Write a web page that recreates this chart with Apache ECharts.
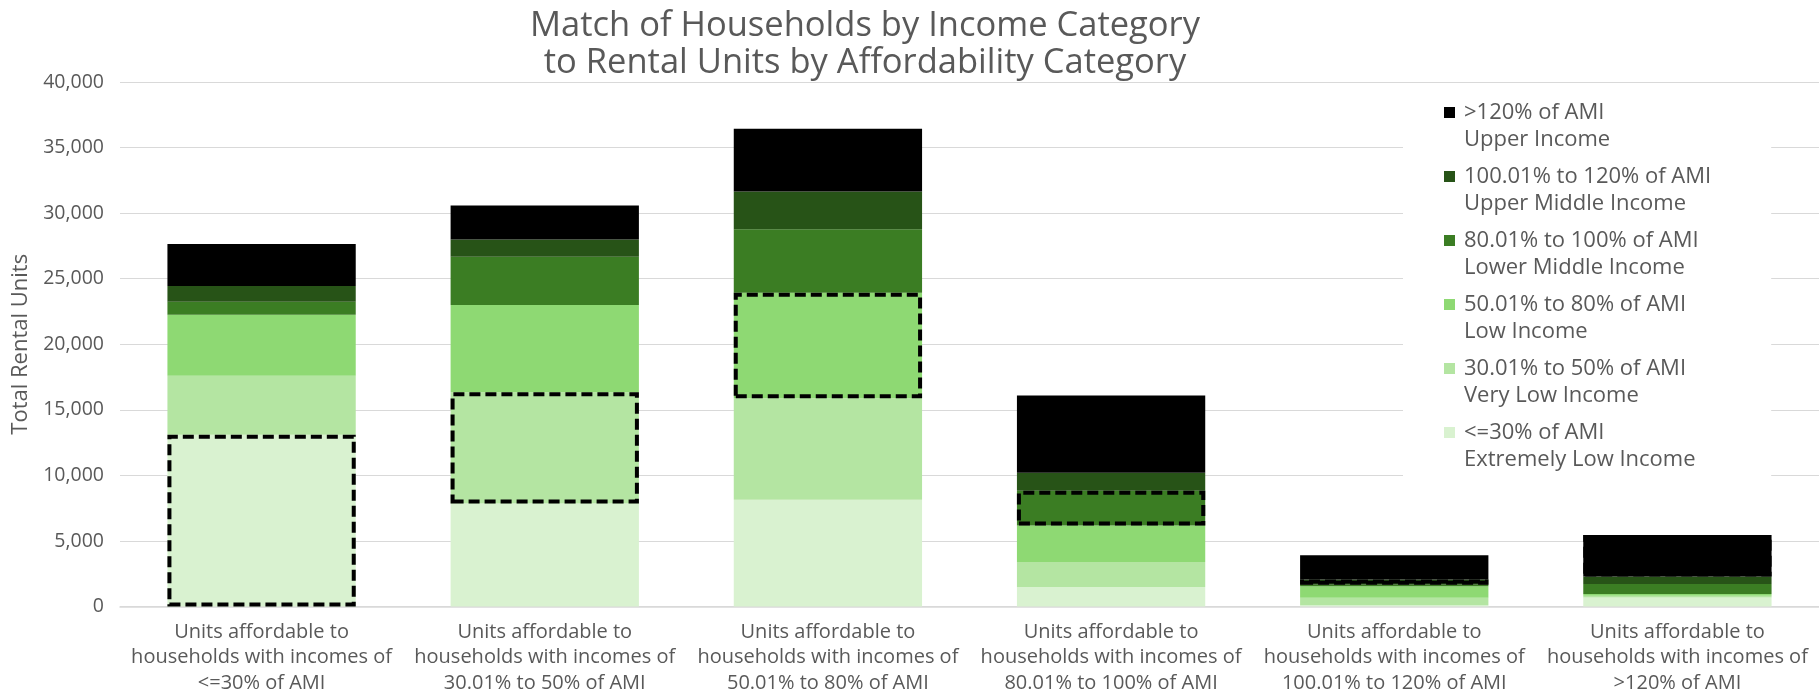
<!DOCTYPE html>
<html>
<head>
<meta charset="utf-8">
<script src="https://cdn.jsdelivr.net/npm/echarts@6/dist/echarts.min.js"></script>
<style>
html,body{margin:0;padding:0;background:#fff;}
#chart{width:1819px;height:696px;}
</style>
</head>
<body>
<div id="chart"></div>
<script>
// ---- data ----
const categories = [
  "Units affordable to\nhouseholds with incomes of\n<=30% of AMI",
  "Units affordable to\nhouseholds with incomes of\n30.01% to 50% of AMI",
  "Units affordable to\nhouseholds with incomes of\n50.01% to 80% of AMI",
  "Units affordable to\nhouseholds with incomes of\n80.01% to 100% of AMI",
  "Units affordable to\nhouseholds with incomes of\n100.01% to 120% of AMI",
  "Units affordable to\nhouseholds with incomes of\n>120% of AMI"
];
const seriesNames = [
  "<=30% of AMI\nExtremely Low Income",
  "30.01% to 50% of AMI\nVery Low Income",
  "50.01% to 80% of AMI\nLow Income",
  "80.01% to 100% of AMI\nLower Middle Income",
  "100.01% to 120% of AMI\nUpper Middle Income",
  ">120% of AMI\nUpper Income"
];
const extremelyLow = [13100, 7850, 8150, 1490, 100, 690];
const veryLow      = [4500, 8480, 7730, 1910, 560, 130];
const low          = [4650, 6670, 8040, 2770, 890, 130];
const lowerMiddle  = [1000, 3680, 4850, 2650, 110, 760];
const upperMiddle  = [1200, 1300, 2880, 1380, 400, 580];
const upper        = [3200, 2600, 4780, 5900, 1840, 3170];
const yTicks = { min: 0, max: 40000, interval: 5000 };

const seriesValues = [extremelyLow, veryLow, low, lowerMiddle, upperMiddle, upper];
const colors = ["#D9F2D0", "#B4E5A2", "#8ED973", "#3B7D23", "#275317", "#000000"];

const FONT = "'Open Sans', 'Noto Sans', sans-serif";
const TXT = "#595959";

const series = [];
seriesValues.forEach((vals, k) => {
  series.push({
    name: seriesNames[k],
    type: 'bar',
    stack: 'units',
    barWidth: '66.5%',
    barGap: '-100%',
    itemStyle: { color: colors[k] },
    emphasis: { disabled: true },
    data: vals
  });
});
// dashed outline overlay: same stacked values, the matching category outlined
seriesValues.forEach((vals, k) => {
  series.push({
    name: 'match' + k,
    type: 'bar',
    stack: 'outline',
    barWidth: '66.5%',
    barGap: '-100%',
    z: 5,
    silent: true,
    emphasis: { disabled: true },
    itemStyle: { color: 'rgba(0,0,0,0)', borderWidth: 0 },
    data: vals.map((v, i) => i === k
      ? { value: v, itemStyle: { color: 'rgba(0,0,0,0)', borderColor: '#000', borderWidth: 4, borderType: [11, 5] } }
      : { value: v })
  });
});

const chart = echarts.init(document.getElementById('chart'), null, { renderer: 'canvas' });
chart.setOption({
  animation: false,
  backgroundColor: '#fff',
  textStyle: { fontFamily: FONT },
  color: colors,
  title: {
    text: 'Match of Households by Income Category\nto Rental Units by Affordability Category',
    left: 860,
    top: 3,
    textAlign: 'center',
    textStyle: { fontFamily: FONT, fontSize: 34.5, fontWeight: 'normal', color: TXT, lineHeight: 37 }
  },
  legend: {
    data: seriesNames.slice().reverse(),
    orient: 'vertical',
    left: 1403,
    top: 90,
    padding: [9, 60, 4, 41],
    backgroundColor: '#fff',
    itemWidth: 11,
    itemHeight: 54,
    itemGap: 10,
    icon: 'path://M0,0h0.01v0.01h-0.01z M0,8h11v11h-11z M0,53.99h0.01v0.01h-0.01z',
    selectedMode: false,
    textStyle: { fontFamily: FONT, fontSize: 22, lineHeight: 27, color: TXT, padding: [0, 0, 0, 4] }
  },
  grid: { left: 120, top: 82, width: 1704, bottom: 85, containLabel: false },
  xAxis: {
    type: 'category',
    data: categories,
    axisTick: { show: false },
    axisLine: { lineStyle: { color: '#D9D9D9', width: 1.5 } },
    axisLabel: { interval: 0, color: TXT, fontFamily: FONT, fontSize: 20, lineHeight: 25.5, margin: 13 }
  },
  yAxis: {
    type: 'value',
    min: yTicks.min,
    max: yTicks.max,
    interval: yTicks.interval,
    name: 'Total Rental Units',
    nameLocation: 'middle',
    nameRotate: 90,
    nameGap: 88,
    nameTextStyle: { color: TXT, fontFamily: FONT, fontSize: 22, padding: 0 },
    axisLine: { show: false },
    axisTick: { show: false },
    splitLine: { lineStyle: { color: '#D9D9D9', width: 1.2 } },
    axisLabel: {
      color: TXT, fontFamily: FONT, fontSize: 19.5, margin: 16,
      formatter: v => v.toLocaleString('en-US')
    }
  },
  series: series
});
</script>
</body>
</html>
